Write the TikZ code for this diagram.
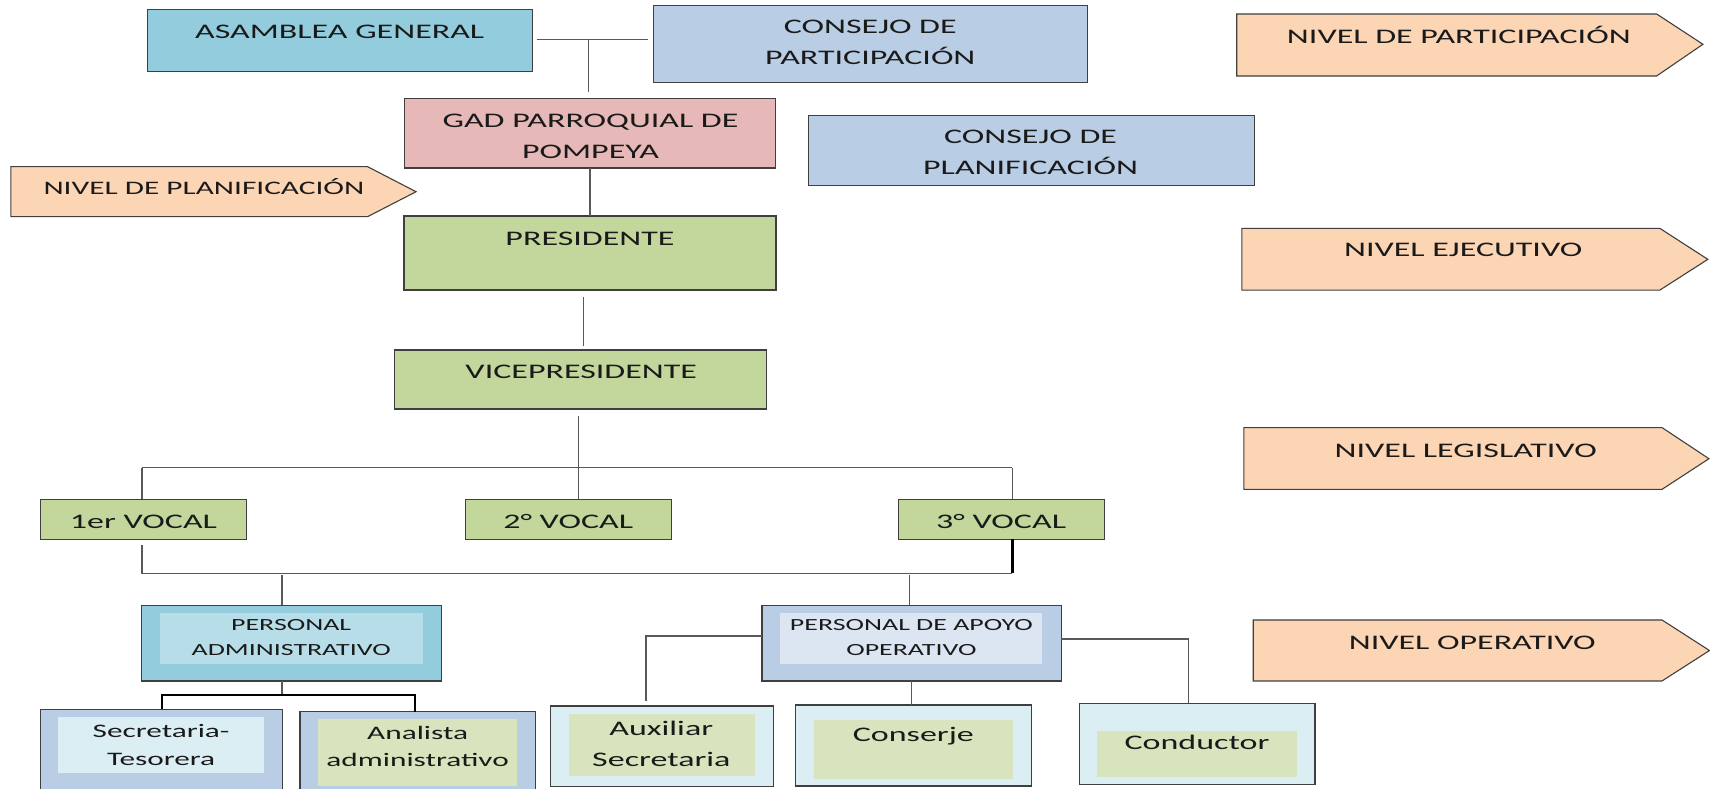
\documentclass[tikz,border=0pt]{standalone}
\usepackage{fontspec}
\setmainfont{Carlito}[FakeStretch=1.64]
\definecolor{asamc}{HTML}{93CDDD}
\definecolor{blc}{HTML}{B9CDE5}
\definecolor{gadc}{HTML}{E6B9B8}
\definecolor{grc}{HTML}{C3D69B}
\definecolor{peach}{HTML}{FCD5B5}
\definecolor{painc}{HTML}{B7DEE8}
\definecolor{paoinc}{HTML}{DCE6F2}
\definecolor{ltc}{HTML}{DBEEF4}
\definecolor{lgc}{HTML}{D7E4BD}
\definecolor{bdr}{HTML}{3F3F3F}
\definecolor{lnc}{HTML}{595959}
\definecolor{txc}{HTML}{1A1A1A}
\begin{document}
\begin{tikzpicture}[x=1pt,y=-1pt,
  box/.style={draw=bdr, line width=1.1pt, rectangle, inner sep=0pt, outer sep=0pt, anchor=north west},
  inbox/.style={rectangle, inner sep=0pt, outer sep=0pt, anchor=north west, draw=none},
  conn/.style={draw=lnc, line width=1.2pt},
  connk/.style={draw=black, line width=1.9pt},
  lbl/.style={anchor=base, inner sep=0pt, text=txc, font=\fontsize{19}{23}\selectfont},
  lbls/.style={lbl, font=\fontsize{17.5}{21}\selectfont},
  lblxs/.style={lbl, font=\fontsize{15.6}{19}\selectfont},
  lvl/.style={fill=peach, draw=bdr, line width=1pt}
]
\useasboundingbox (0,0) rectangle (1568,723);
\fill[white] (0,0) rectangle (1568,723);

% ---------- level arrows ----------
\filldraw[lvl] (1134,12.8) -- (1519,12.8) -- (1561.5,40.6) -- (1519,69.7) -- (1134,69.7) -- cycle;
\filldraw[lvl] (10,152.8) -- (337,152.8) -- (381.5,175.8) -- (337,198.7) -- (10,198.7) -- cycle;
\filldraw[lvl] (1138.8,209.4) -- (1522,209.4) -- (1566,237.8) -- (1522,266) -- (1138.8,266) -- cycle;
\filldraw[lvl] (1140.6,392.1) -- (1524,392.1) -- (1567,420.6) -- (1524,448.7) -- (1140.6,448.7) -- cycle;
\filldraw[lvl] (1149.2,568.5) -- (1524,568.5) -- (1567.5,596.5) -- (1524,624.4) -- (1149.2,624.4) -- cycle;
\node[lbl] (lvPart) at (1337.7,39.7) {NIVEL DE PARTICIPACIÓN};
\node[lbl, font=\fontsize{17.5}{21}\selectfont] (lvPlan) at (187,178.2) {NIVEL DE PLANIFICACIÓN};
\node[lbl] (lvEjec) at (1341.7,235.4) {NIVEL EJECUTIVO};
\node[lbl] (lvLeg) at (1344,419.3) {NIVEL LEGISLATIVO};
\node[lbl] (lvOper) at (1350,595.4) {NIVEL OPERATIVO};

% ---------- boxes ----------
\node[box, fill=asamc, minimum width=353pt, minimum height=57pt] (asam) at (135,8.8) {};
\node[box, fill=blc, minimum width=398pt, minimum height=71pt] (cpart) at (599,4.8) {};
\node[box, fill=gadc, minimum width=340pt, minimum height=64pt] (gad) at (371,90) {};
\node[box, fill=blc, minimum width=409pt, minimum height=64pt] (cplan) at (741,106) {};
\node[box, fill=grc, minimum width=341pt, minimum height=68pt] (pres) at (370.5,198) {};
\node[box, fill=grc, minimum width=341pt, minimum height=54pt] (vice) at (362,321) {};
\node[box, fill=grc, minimum width=189pt, minimum height=36.5pt] (v1) at (37,458) {};
\node[box, fill=grc, minimum width=189.5pt, minimum height=36.5pt] (v2) at (426.5,458) {};
\node[box, fill=grc, minimum width=189pt, minimum height=36.5pt] (v3) at (824,458) {};

\node[box, fill=asamc, minimum width=274.5pt, minimum height=69.5pt] (pa) at (130,555) {};
\node[inbox, fill=painc, minimum width=240.5pt, minimum height=46.8pt] (pain) at (147,562) {};
\node[box, fill=blc, minimum width=274.6pt, minimum height=69.4pt] (pao) at (698.7,555) {};
\node[inbox, fill=paoinc, minimum width=240.3pt, minimum height=47pt] (paoin) at (715.5,561.8) {};

\node[box, fill=blc, minimum width=221.8pt, minimum height=80pt] (sec) at (37,650.4) {};
\node[inbox, fill=ltc, minimum width=188.4pt, minimum height=51.6pt] (secin) at (53.3,657.4) {};
\node[box, fill=blc, minimum width=216.2pt, minimum height=78pt] (ana) at (275,652.6) {};
\node[inbox, fill=lgc, minimum width=182.5pt, minimum height=61.7pt] (anain) at (291.5,659.3) {};
\node[box, fill=ltc, minimum width=204.6pt, minimum height=73.9pt] (aux) at (504.6,647.4) {};
\node[inbox, fill=lgc, minimum width=171pt, minimum height=56.5pt] (auxin) at (521.6,654.7) {};
\node[box, fill=ltc, minimum width=216.2pt, minimum height=74.3pt] (cons) at (729.4,646.4) {};
\node[inbox, fill=lgc, minimum width=183pt, minimum height=53.8pt] (consin) at (746.2,660.2) {};
\node[box, fill=ltc, minimum width=216.1pt, minimum height=74pt] (cond) at (989.7,645) {};
\node[inbox, fill=lgc, minimum width=183pt, minimum height=42.8pt] (condin) at (1006,670) {};

% ---------- texts ----------
\node[lbl] (tAsam) at (311.5,35) {ASAMBLEA GENERAL};
\node[lbl] (tCp1) at (798,30.6) {CONSEJO DE};
\node[lbl] (tCp2) at (798,59.6) {PARTICIPACIÓN};
\node[lbl] (tGad1) at (541.5,116.8) {GAD PARROQUIAL DE};
\node[lbl] (tGad2) at (541.5,145.2) {POMPEYA};
\node[lbl] (tCl1) at (945,132) {CONSEJO DE};
\node[lbl] (tCl2) at (945,160) {PLANIFICACIÓN};
\node[lbl] (tPres) at (541,225.3) {PRESIDENTE};
\node[lbl] (tVice) at (533,347.5) {VICEPRESIDENTE};
\node[lbl] (tV1) at (131.5,485) {1er VOCAL};
\node[lbl] (tV2) at (521,485) {2° VOCAL};
\node[lbl] (tV3) at (918,485) {3° VOCAL};
\node[lblxs] (tPa1) at (267,578.3) {PERSONAL};
\node[lblxs] (tPa2) at (267,600.6) {ADMINISTRATIVO};
\node[lblxs] (tPao1) at (835.7,578.3) {PERSONAL DE APOYO};
\node[lblxs] (tPao2) at (835.7,601.2) {OPERATIVO};
\node[lbls] (tSec1) at (147.7,676) {Secretaria-};
\node[lbls] (tSec2) at (147.7,702) {Tesorera};
\node[lbls] (tAna1) at (383,678) {Analista};
\node[lbls] (tAna2) at (383,703) {administrativo};
\node[lbl] (tAux1) at (606.4,674.5) {Auxiliar};
\node[lbl] (tAux2) at (606.4,702.4) {Secretaria};
\node[lbl] (tCons) at (837.5,680) {Conserje};
\node[lbl] (tCond) at (1097.6,687.7) {Conductor};

% ---------- connectors ----------
\coordinate (jA) at (539.5,36);
\draw[conn] ([xshift=4pt]asam.east |- jA) -- ([xshift=-5pt]cpart.west |- jA);
\draw[conn, shorten >=6pt] (jA) -- (gad.north -| jA);
\draw[conn] (gad.south) -- (pres.north);
\coordinate (jPV) at (535,0);
\draw[conn, shorten <=6.6pt, shorten >=4pt] (pres.south -| jPV) -- (vice.north -| jPV);
\coordinate (bus1) at (530.5,428.8);
\coordinate (b1L) at (130.3,428.8);
\coordinate (b1R) at (928.4,428.8);
\draw[conn, shorten <=6.5pt] (vice.south -| bus1) -- (bus1);
\draw[conn] (b1L) -- (b1R);
\draw[conn] (b1L) -- (b1L |- v1.north);
\draw[conn] (bus1) -- (bus1 |- v2.north);
\draw[conn] (b1R) -- (b1R |- v3.north);

\coordinate (b2L) at (130.3,525.6);
\coordinate (b2R) at (928.4,525.6);
\coordinate (b2a) at (258.7,525.6);
\coordinate (b2b) at (833.8,525.6);
\draw[conn, shorten <=5.5pt] (b2L |- v1.south) -- (b2L) -- (b2R);
\draw[connk] (b2R |- v3.south) -- (b2R);
\draw[conn, shorten <=1.5pt] (b2a) -- (b2a |- pa.north);
\draw[conn, shorten <=1.5pt] (b2b) -- (b2b |- pao.north);

\coordinate (pac) at (258.7,637.3);
\coordinate (pcl) at (148.3,637.3);
\coordinate (pcr) at (380.8,637.3);
\draw[conn] (pa.south -| pac) -- (pac);
\draw[connk] (pcl |- sec.north) -- (pcl) -- (pcr) -- (pcr |- ana.north);

\coordinate (pl) at (592.3,583.2);
\coordinate (pr) at (1089.7,586);
\coordinate (pc) at (835.9,0);
\draw[conn, shorten >=5pt] (pao.west |- pl) -- (pl) -- (pl |- aux.north);
\draw[conn] (pao.east |- pr) -- (pr) -- (pr |- cond.north);
\draw[conn] (pao.south -| pc) -- (cons.north -| pc);
\end{tikzpicture}
\end{document}
